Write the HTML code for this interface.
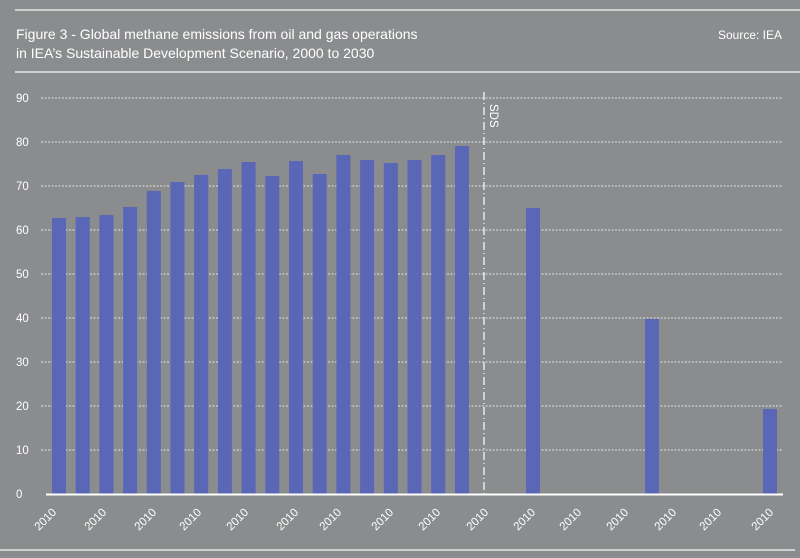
<!DOCTYPE html>
<html><head><meta charset="utf-8"><style>
html,body{margin:0;padding:0;background:#8a8c8e;}
svg{display:block;font-family:"Liberation Sans",sans-serif;}
</style></head><body>
<svg width="800" height="558" viewBox="0 0 800 558" xmlns="http://www.w3.org/2000/svg">
<rect width="800" height="558" fill="#8a8c8e"/>
<line x1="15" y1="10" x2="800" y2="10" stroke="#e6e6e6" stroke-width="1.5"/>
<text x="16" y="39" fill="#fff" font-size="14">Figure 3 - Global methane emissions from oil and gas operations</text>
<text x="16" y="58" fill="#fff" font-size="14">in IEA’s Sustainable Development Scenario, 2000 to 2030</text>
<text x="782" y="39" fill="#fff" font-size="12" text-anchor="end">Source: IEA</text>
<line x1="15" y1="72" x2="800" y2="72" stroke="#e6e6e6" stroke-width="1.5"/>
<g stroke="#fff" stroke-width="0.7" stroke-dasharray="2,1.5">
<line x1="41" y1="98" x2="783" y2="98"/><line x1="41" y1="142" x2="783" y2="142"/>
<line x1="41" y1="186" x2="783" y2="186"/><line x1="41" y1="230" x2="783" y2="230"/>
<line x1="41" y1="274" x2="783" y2="274"/><line x1="41" y1="318" x2="783" y2="318"/>
<line x1="41" y1="362" x2="783" y2="362"/><line x1="41" y1="406" x2="783" y2="406"/>
<line x1="41" y1="450" x2="783" y2="450"/>
</g>
<g fill="#fff" font-size="11.5">
<text x="16" y="102">90</text><text x="16" y="146">80</text><text x="16" y="190">70</text>
<text x="16" y="234">60</text><text x="16" y="278">50</text><text x="16" y="322">40</text>
<text x="16" y="366">30</text><text x="16" y="410">20</text><text x="16" y="454">10</text>
<text x="16" y="498">0</text>
</g>
<g fill="#5a66b6">
<rect x="52" y="218" width="14" height="276"/>
<rect x="75.7" y="217" width="14" height="277"/>
<rect x="99.4" y="215" width="14" height="279"/>
<rect x="123.1" y="207" width="14" height="287"/>
<rect x="146.8" y="191" width="14" height="303"/>
<rect x="170.5" y="182" width="14" height="312"/>
<rect x="194.2" y="175" width="14" height="319"/>
<rect x="217.9" y="169" width="14" height="325"/>
<rect x="241.6" y="162" width="14" height="332"/>
<rect x="265.3" y="176" width="14" height="318"/>
<rect x="289" y="161" width="14" height="333"/>
<rect x="312.7" y="174" width="14" height="320"/>
<rect x="336.4" y="155" width="14" height="339"/>
<rect x="360.1" y="160" width="14" height="334"/>
<rect x="383.8" y="163" width="14" height="331"/>
<rect x="407.5" y="160" width="14" height="334"/>
<rect x="431.2" y="155" width="14" height="339"/>
<rect x="455" y="146" width="14" height="348"/>
<rect x="526" y="208" width="14" height="286"/>
<rect x="645" y="319" width="14" height="175"/>
<rect x="763" y="409" width="14" height="85"/>
</g>
<line x1="484" y1="92" x2="484" y2="494" stroke="#fff" stroke-width="1.2" stroke-dasharray="8,3,1,3"/>
<text transform="translate(490,104) rotate(90)" fill="#fff" font-size="11.5">SDS</text>
<line x1="46" y1="494.5" x2="783" y2="494.5" stroke="#fff" stroke-width="2"/>
<g fill="#fff" font-size="11.5" text-anchor="middle">
<text transform="translate(48,522) rotate(-45)">2010</text>
<text transform="translate(98,522) rotate(-45)">2010</text>
<text transform="translate(148,522) rotate(-45)">2010</text>
<text transform="translate(193,522) rotate(-45)">2010</text>
<text transform="translate(240,522) rotate(-45)">2010</text>
<text transform="translate(290,522) rotate(-45)">2010</text>
<text transform="translate(333,522) rotate(-45)">2010</text>
<text transform="translate(385,522) rotate(-45)">2010</text>
<text transform="translate(432,522) rotate(-45)">2010</text>
<text transform="translate(480,522) rotate(-45)">2010</text>
<text transform="translate(527,522) rotate(-45)">2010</text>
<text transform="translate(573,522) rotate(-45)">2010</text>
<text transform="translate(620,522) rotate(-45)">2010</text>
<text transform="translate(668,522) rotate(-45)">2010</text>
<text transform="translate(713,522) rotate(-45)">2010</text>
<text transform="translate(765,522) rotate(-45)">2010</text>
</g>
<line x1="0" y1="550" x2="795" y2="550" stroke="#e6e6e6" stroke-width="1.5"/>
</svg>
</body></html>
